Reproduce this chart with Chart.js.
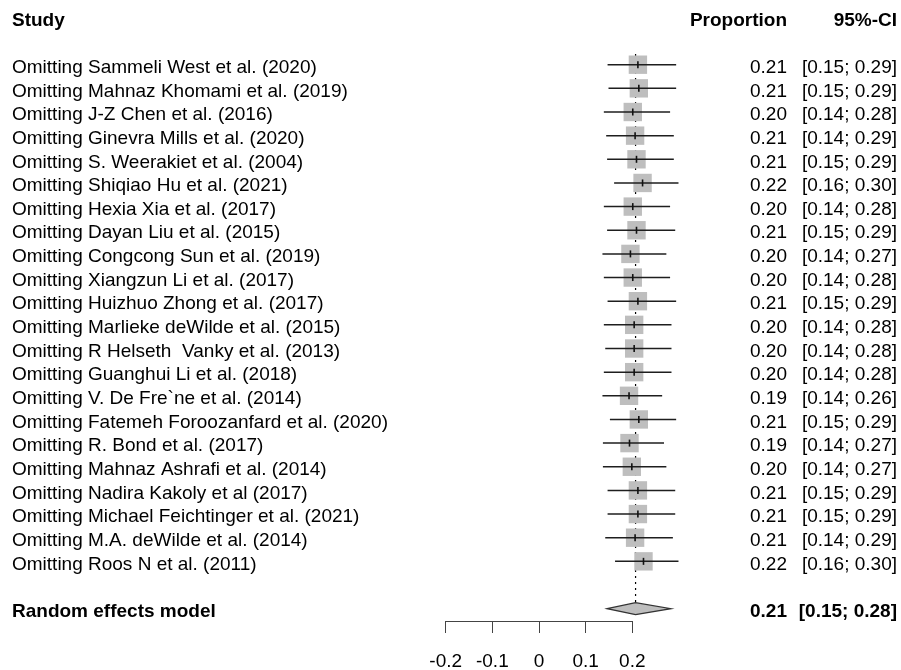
<!DOCTYPE html>
<html>
<head>
<meta charset="utf-8">
<script src="https://cdn.jsdelivr.net/npm/chart.js@4.4.1/dist/chart.umd.min.js"></script>
<style>
  html, body { margin: 0; padding: 0; background: #fff; overflow: hidden; }
  #wrap { width: 901px; height: 670px; position: relative; }
  #forest { display: block; }
</style>
</head>
<body>
<div id="wrap"><canvas id="forest"></canvas></div>
<script>
/* =========================
   DATA
========================= */

const studies = [
    "Omitting Sammeli West et al. (2020)",
    "Omitting Mahnaz Khomami et al. (2019)",
    "Omitting J-Z Chen et al. (2016)",
    "Omitting Ginevra Mills et al. (2020)",
    "Omitting S. Weerakiet et al. (2004)",
    "Omitting Shiqiao Hu et al. (2021)",
    "Omitting Hexia Xia et al. (2017)",
    "Omitting Dayan Liu et al. (2015)",
    "Omitting Congcong Sun et al. (2019)",
    "Omitting Xiangzun Li et al. (2017)",
    "Omitting Huizhuo Zhong et al. (2017)",
    "Omitting Marlieke deWilde et al. (2015)",
    "Omitting R Helseth  Vanky et al. (2013)",
    "Omitting Guanghui Li et al. (2018)",
    "Omitting V. De Fre`ne et al. (2014)",
    "Omitting Fatemeh Foroozanfard et al. (2020)",
    "Omitting R. Bond et al. (2017)",
    "Omitting Mahnaz Ashrafi et al. (2014)",
    "Omitting Nadira Kakoly et al (2017)",
    "Omitting Michael Feichtinger et al. (2021)",
    "Omitting M.A. deWilde et al. (2014)",
    "Omitting Roos N et al. (2011)"
];

const estimates = [0.212, 0.214, 0.201, 0.206, 0.209, 0.222, 0.201, 0.209, 0.196, 0.201, 0.212,
                   0.204, 0.204, 0.204, 0.193, 0.214, 0.194, 0.199, 0.212, 0.212, 0.206, 0.224];
const lowerCI   = [0.147, 0.149, 0.139, 0.144, 0.146, 0.161, 0.139, 0.146, 0.136, 0.139, 0.147,
                   0.139, 0.142, 0.139, 0.136, 0.152, 0.137, 0.137, 0.147, 0.147, 0.142, 0.163];
const upperCI   = [0.294, 0.294, 0.281, 0.289, 0.289, 0.299, 0.281, 0.292, 0.273, 0.281, 0.294,
                   0.284, 0.284, 0.284, 0.264, 0.294, 0.268, 0.273, 0.292, 0.292, 0.287, 0.299];

const pooledLabel = "Random effects model";
const pooledEst = 0.207;
const pooledLower = 0.146;
const pooledUpper = 0.283;

const xTicks = [-0.2, -0.1, 0, 0.1, 0.2];

/* =========================
   LAYOUT
========================= */

const FONT = "'Liberation Sans', Arial, sans-serif";
const FONT_SIZE = 19;
const ROW_PX = 23.65;
const FIRST_ROW_PX = 64.7;
const TEXT_SHIFT = 3;          // text sits a little below the marks
const ZERO_PX = 539;
const UNIT_PX = 466.5;
const LEFT_PAD = 12;
const Y_AXIS_W = 420;
const AXIS_PX = 621;
const W = 901, H = 670;

const HEADER_ROW = -2;
const POOLED_ROW = studies.length + 1;
const DIAMOND_HALF = 6;

const areaLeft = LEFT_PAD + Y_AXIS_W;
const xMin = (areaLeft - ZERO_PX) / UNIT_PX;
const xMax = (W - ZERO_PX) / UNIT_PX;
const yMin = -FIRST_ROW_PX / ROW_PX;
const yMax = (AXIS_PX - FIRST_ROW_PX) / ROW_PX;
const yShift = TEXT_SHIFT / ROW_PX;

const EST_RIGHT = 787;
const CI_RIGHT = 897;

function rowLabel(v) {
    if (v === HEADER_ROW) return "Study";
    if (v === POOLED_ROW) return pooledLabel;
    return studies[v] || "";
}

function ciText(lo, hi) {
    return "[" + lo.toFixed(2) + "; " + hi.toFixed(2) + "]";
}

function noPadding(s) {
    s.paddingTop = 0;
    s.paddingBottom = 0;
    s.paddingLeft = 0;
    s.paddingRight = 0;
}

/* =========================
   DATASETS
========================= */

let datasets = [];

// squares
datasets.push({
    data: estimates.map((e, i) => ({ x: e, y: i })),
    yAxisID: "yd",
    pointStyle: "rect",
    pointRadius: 13,
    backgroundColor: "#bebebe",
    borderWidth: 0,
    order: 5
});

// confidence interval lines
estimates.forEach((e, i) => {
    datasets.push({
        type: "line",
        yAxisID: "yd",
        data: [{ x: lowerCI[i], y: i }, { x: upperCI[i], y: i }],
        borderColor: "#1e1e1e",
        borderWidth: 1.5,
        pointRadius: 0,
        order: 3
    });
});

// estimate ticks
datasets.push({
    data: estimates.map((e, i) => ({ x: e, y: i })),
    yAxisID: "yd",
    pointStyle: "line",
    rotation: 90,
    pointRadius: 3.5,
    borderColor: "#111",
    borderWidth: 1.6,
    order: 1
});

// pooled dotted reference line
datasets.push({
    type: "line",
    yAxisID: "yd",
    data: [{ x: pooledEst, y: -0.45 }, { x: pooledEst, y: POOLED_ROW - DIAMOND_HALF / ROW_PX }],
    borderColor: "#000",
    borderWidth: 1.2,
    borderDash: [2, 4],
    pointRadius: 0,
    order: 6
});

/* =========================
   EXTRA DRAWING
========================= */

const forestExtras = {
    id: "forestExtras",
    afterDatasetsDraw(chart) {
        const { ctx, scales: { x, y, yd } } = chart;
        ctx.save();

        // diamond
        const yc = yd.getPixelForValue(POOLED_ROW);
        ctx.beginPath();
        ctx.moveTo(x.getPixelForValue(pooledLower), yc);
        ctx.lineTo(x.getPixelForValue(pooledEst), yc - DIAMOND_HALF);
        ctx.lineTo(x.getPixelForValue(pooledUpper), yc);
        ctx.lineTo(x.getPixelForValue(pooledEst), yc + DIAMOND_HALF);
        ctx.closePath();
        ctx.fillStyle = "#bebebe";
        ctx.fill();
        ctx.strokeStyle = "#333";
        ctx.lineWidth = 1.2;
        ctx.stroke();

        // axis line
        const ay = Math.round(chart.chartArea.bottom) + 0.5;
        ctx.beginPath();
        ctx.moveTo(x.getPixelForValue(xTicks[0]), ay);
        ctx.lineTo(x.getPixelForValue(xTicks[xTicks.length - 1]), ay);
        ctx.strokeStyle = "#444";
        ctx.lineWidth = 1;
        ctx.stroke();

        // value columns
        ctx.fillStyle = "#000";
        ctx.textAlign = "right";
        ctx.textBaseline = "middle";

        const hy = y.getPixelForValue(HEADER_ROW);
        ctx.font = "bold " + FONT_SIZE + "px " + FONT;
        ctx.fillText("Proportion", EST_RIGHT, hy);
        ctx.fillText("95%-CI", CI_RIGHT, hy);

        ctx.font = FONT_SIZE + "px " + FONT;
        estimates.forEach((e, i) => {
            const py = y.getPixelForValue(i);
            ctx.fillText(e.toFixed(2), EST_RIGHT, py);
            ctx.fillText(ciText(lowerCI[i], upperCI[i]), CI_RIGHT, py);
        });

        const py = y.getPixelForValue(POOLED_ROW);
        ctx.font = "bold " + FONT_SIZE + "px " + FONT;
        ctx.fillText(pooledEst.toFixed(2), EST_RIGHT, py);
        ctx.fillText(ciText(pooledLower, pooledUpper), CI_RIGHT, py);

        ctx.restore();
    }
};

/* =========================
   CHART
========================= */

const rowTicks = [HEADER_ROW].concat(studies.map((s, i) => i), [POOLED_ROW]);

new Chart(document.getElementById("forest"), {
    type: "scatter",
    data: { datasets: datasets },
    options: {
        responsive: true,
        maintainAspectRatio: false,
        animation: false,
        layout: { autoPadding: false, padding: { left: LEFT_PAD, right: 0, top: 0, bottom: 0 } },
        plugins: {
            legend: { display: false },
            tooltip: { enabled: false }
        },
        scales: {
            x: {
                type: "linear",
                min: xMin,
                max: xMax,
                afterBuildTicks: s => { s.ticks = xTicks.map(v => ({ value: v })); },
                afterFit: s => { s.height = H - AXIS_PX; noPadding(s); },
                grid: { drawOnChartArea: false, drawTicks: true, tickLength: 12, color: "#444", lineWidth: 1 },
                border: { display: false },
                ticks: {
                    color: "#000",
                    autoSkip: false,
                    maxRotation: 0,
                    padding: 17,
                    font: { family: FONT, size: FONT_SIZE },
                    callback: v => String(v)
                }
            },
            // row labels (text sits slightly lower than the marks)
            y: {
                type: "linear",
                position: "left",
                reverse: true,
                min: yMin - yShift,
                max: yMax - yShift,
                afterBuildTicks: s => { s.ticks = rowTicks.map(v => ({ value: v })); },
                afterFit: s => { s.width = Y_AXIS_W; noPadding(s); },
                grid: { display: false },
                border: { display: false },
                ticks: {
                    crossAlign: "far",
                    color: "#000",
                    autoSkip: false,
                    font: c => ({
                        family: FONT,
                        size: FONT_SIZE,
                        weight: (c.tick && (c.tick.value === HEADER_ROW || c.tick.value === POOLED_ROW)) ? "bold" : "normal"
                    }),
                    callback: v => rowLabel(v)
                }
            },
            // rows for the marks
            yd: {
                type: "linear",
                display: false,
                reverse: true,
                min: yMin,
                max: yMax
            }
        }
    },
    plugins: [forestExtras]
});
</script>
</body>
</html>
